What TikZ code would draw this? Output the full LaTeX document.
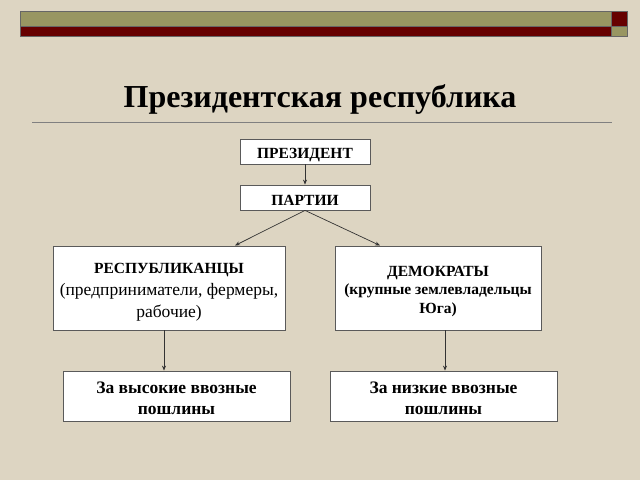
\documentclass[tikz,border=0pt]{standalone}
\usepackage{fontspec}
\setmainfont{Liberation Serif}
\usetikzlibrary{arrows.meta}
\definecolor{bg}{RGB}{221,213,194}
\definecolor{olive}{RGB}{152,150,98}
\definecolor{darkred}{RGB}{102,0,0}
\definecolor{edge}{RGB}{90,90,90}
\begin{document}
\begin{tikzpicture}[x=1pt,y=-1pt,
  box/.style={draw=edge,fill=white,line width=0.8pt,inner sep=0pt,align=center,font=\bfseries\fontsize{15.5}{19}\selectfont},
  conn/.style={draw=black!80,line width=0.7pt,-{Stealth[length=5pt,width=4pt]}}]
\fill[bg] (0,0) rectangle (640,480);
\useasboundingbox (0,0) rectangle (640,480);
% top bar
\draw[fill=olive,draw=black!60,line width=0.8pt] (20,11) rectangle (611,26);
\draw[fill=darkred,draw=black!60,line width=0.8pt] (20,26) rectangle (611,36);
\draw[fill=darkred,draw=black!60,line width=0.8pt] (611,11) rectangle (627,26);
\draw[fill=olive,draw=black!60,line width=0.8pt] (611,26) rectangle (627,36);
% title
\node[font=\bfseries\fontsize{32}{38}\selectfont] (title) at (320,99) {Президентская республика};
\draw[gray,line width=0.8pt] (32,122) -- (612,122);
% boxes
\node[box,minimum width=130pt,minimum height=25pt,text height=13pt,text depth=0pt] (pres) at (305,151.5) {ПРЕЗИДЕНТ};
\node[box,minimum width=130pt,minimum height=25pt,text height=15pt,text depth=0pt] (part) at (305,197.5) {ПАРТИИ};
\node[box,minimum width=232pt,minimum height=84pt,text height=58pt,text depth=0pt,font=\mdseries\fontsize{17.5}{22}\selectfont] (rep) at (169,288) {{\bfseries\fontsize{15.5}{22}\selectfont РЕСПУБЛИКАНЦЫ}\\(предприниматели, фермеры,\\рабочие)};
\node[box,minimum width=206pt,minimum height=84pt,text height=50pt,text depth=0pt,font=\bfseries\fontsize{15.5}{18.5}\selectfont] (dem) at (438,288) {ДЕМОКРАТЫ\\(крупные землевладельцы\\Юга)};
\node[box,minimum width=227pt,minimum height=50pt,text height=36pt,text depth=0pt,font=\bfseries\fontsize{17.5}{20.5}\selectfont] (high) at (176.5,396) {За высокие ввозные\\пошлины};
\node[box,minimum width=227pt,minimum height=50pt,text height=36pt,text depth=0pt,font=\bfseries\fontsize{17.5}{20.5}\selectfont] (low) at (443.5,396) {За низкие ввозные\\пошлины};
% connectors
\draw[conn] (pres.south) -- (part.north);
\draw[conn] (part.south) -- (235,245.5);
\draw[conn] (part.south) -- (380,245.5);
\draw[conn] (rep.south -| 164,0) -- (high.north -| 164,0);
\draw[conn] (dem.south -| 445,0) -- (low.north -| 445,0);
\end{tikzpicture}
\end{document}
